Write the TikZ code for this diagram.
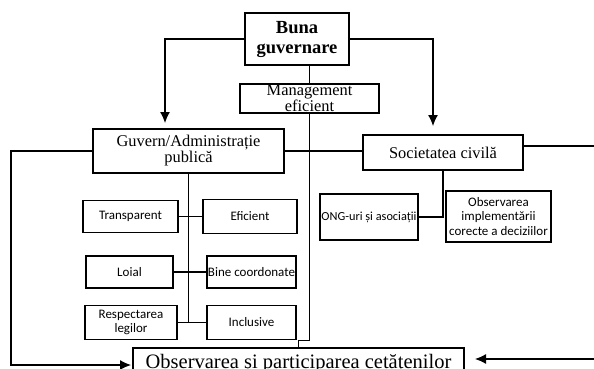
\documentclass[tikz,border=0pt]{standalone}
\usepackage{fontspec}
\setmainfont{Liberation Serif}
\newfontfamily\calibrifont{Carlito}
\usetikzlibrary{arrows.meta}

\begin{document}
\begin{tikzpicture}[x=1pt,y=-1pt,
	bigbox/.style={draw,line width=1.6pt,align=center,inner sep=0pt,font=\fontsize{16.4}{16}\selectfont},
	smallbox/.style={draw,line width=1.6pt,align=center,inner sep=0pt,font=\calibrifont\fontsize{13}{14.5}\selectfont},
	link/.style={line width=1.2pt},
	arrow/.style={link,-{Latex[length=11pt,width=10pt]}}]
	\useasboundingbox (0,0) rectangle (594,369);
	\clip (0,0) rectangle (594,369);
	
	\node[bigbox,minimum width=104pt,minimum height=52pt,font=\bfseries\fontsize{18.5}{20}\selectfont] (buna) at (297,39) {Buna\\guvernare};
	\node[bigbox,minimum width=139pt,minimum height=29pt] (mgmt) at (309.5,98.5) {Management\\eficient};
	\node[bigbox,minimum width=191pt,minimum height=44pt] (guvern) at (188.5,151) {Guvern/Administrație\\publică};
	\node[bigbox,minimum width=160pt,minimum height=35pt] (soc) at (443,152.5) {Societatea civilă};
	\node[bigbox,minimum width=331pt,minimum height=32pt,font=\fontsize{20.5}{22}\selectfont] (obs) at (298.5,364) {Observarea și participarea cetățenilor};
	
	\node[smallbox,minimum width=95pt,minimum height=32pt] (transp) at (130.5,216.5) {Transparent};
	\node[smallbox,minimum width=94pt,minimum height=34pt] (efic) at (250,216.5) {Eficient};
	\node[smallbox,minimum width=87pt,minimum height=32pt] (loial) at (129.5,272) {Loial};
	\node[smallbox,minimum width=89pt,minimum height=32pt] (bine) at (251.5,272) {Bine coordonate};
	\node[smallbox,minimum width=92pt,minimum height=34pt] (resp) at (131,322.5) {Respectarea\\legilor};
	\node[smallbox,minimum width=89pt,minimum height=34pt] (incl) at (251.5,322.5) {Inclusive};
	\node[smallbox,minimum width=98pt,minimum height=46pt,font=\calibrifont\fontsize{12.3}{14.5}\selectfont] (ong) at (369,217) {ONG-uri și asociații};
	\node[smallbox,minimum width=105pt,minimum height=51pt] (obsimp) at (498.5,216.5) {Observarea\\implementării\\corecte a deciziilor};
	
	\coordinate (gtip) at (165,123);
	\coordinate (stip) at (433,126);
	\coordinate (lcorner) at (11,365);
	\coordinate (otip) at (131,365);
	\coordinate (rcorner) at (600,146);
	\coordinate (rtip) at (475,359);
	
	\draw[arrow] (buna.west) -| (gtip);
	\draw[arrow] (buna.east) -| (stip);
	\draw[link] (buna.south -| mgmt.north) -- (mgmt.north);
	\draw[link] (mgmt.south) -- ++(0,227) -| (obs.north);
	\draw[arrow] (guvern.west) -| (lcorner) -- (otip);
	\draw[link] (guvern.east) -- (guvern.east -| soc.west);
	\draw[arrow] (soc.east |- rcorner) -- (rcorner) |- (rtip);
	\draw[link] (guvern.south) -- (guvern.south |- resp.east);
	\draw[link] (transp) -- (efic);
	\draw[link] (loial) -- (bine);
	\draw[link] (resp) -- (incl);
	\draw[link] (soc.south) |- (ong.east);
\end{tikzpicture}
\end{document}
